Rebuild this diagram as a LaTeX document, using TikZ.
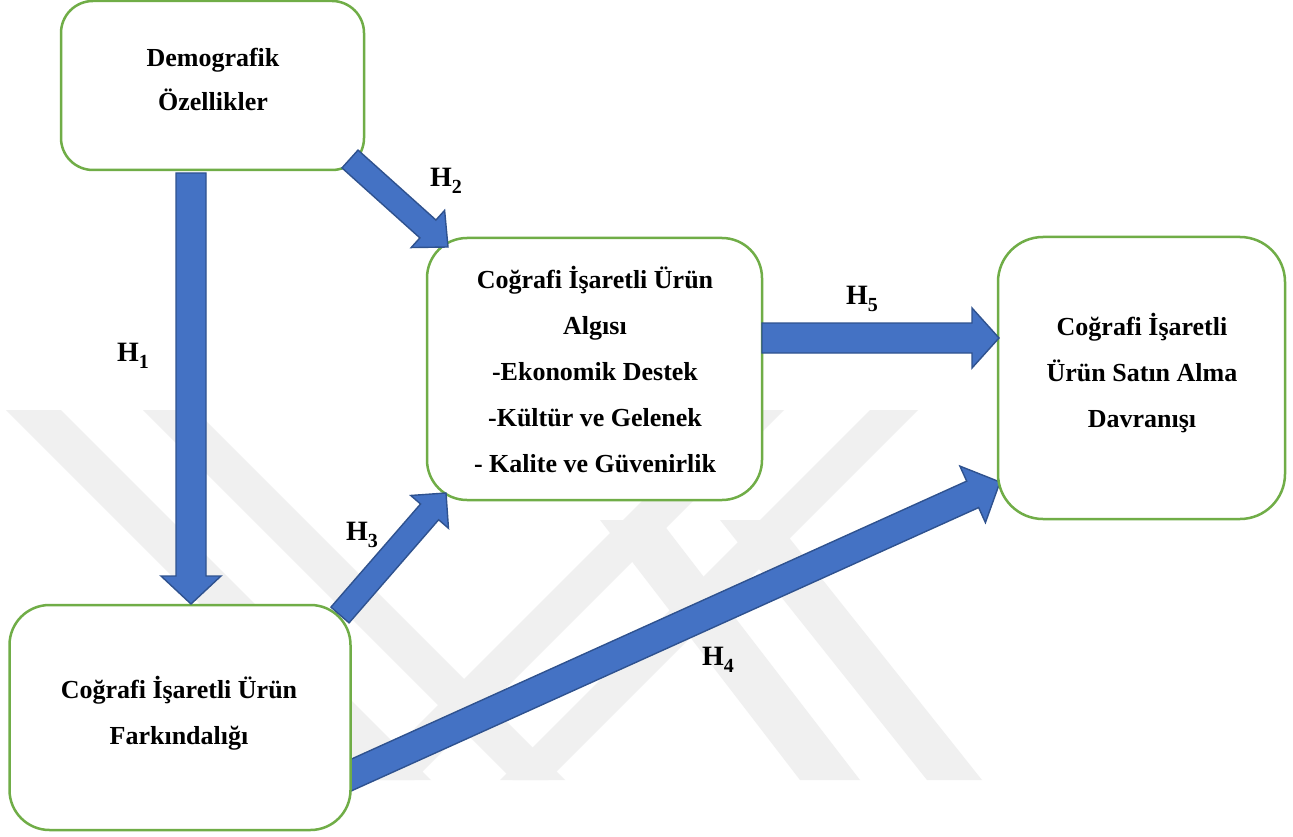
\documentclass[tikz,border=0pt]{standalone}
\usepackage{fontspec}
\setmainfont{Liberation Serif}
\usetikzlibrary{calc}
\definecolor{boxgreen}{HTML}{70AD47}
\definecolor{arrblue}{HTML}{4472C4}
\definecolor{arredge}{HTML}{2F528F}
\definecolor{wm}{HTML}{F0F0F0}
\newcommand{\hsub}[1]{\raisebox{-7pt}{\fontsize{20}{20}\selectfont #1}}
\newcommand{\myblockarrow}[5]{%
  \coordinate (ba-h) at ($(#2)!#5!(#1)$);
  \filldraw[blockarr] ($(#1)!#3!90:(#2)$) -- ($(ba-h)!#3!90:(#2)$) -- ($(ba-h)!#4!90:(#2)$) -- (#2)
    -- ($(ba-h)!#4!-90:(#2)$) -- ($(ba-h)!#3!-90:(#2)$) -- ($(#1)!#3!-90:(#2)$) -- cycle;
}
\tikzset{
  box/.style={draw=boxgreen, line width=2.5pt, rounded corners=#1, fill=white, inner sep=0pt},
  boxtext/.style={align=center, inner sep=0pt, font=\fontsize{26}{46}\selectfont\bfseries},
  blockarr/.style={fill=arrblue, draw=arredge, line width=1.4pt, line join=miter},
  hlabel/.style={anchor=base west, inner sep=0pt, font=\fontsize{28}{28}\selectfont\bfseries},
  wmark/.style={fill=wm, draw=none}
}
\begin{document}
\begin{tikzpicture}[x=1pt,y=-1pt]
\useasboundingbox (0,0) rectangle (1293,837);
\fill[white] (0,0) rectangle (1293,837);
% watermark
\fill[wmark] (6,410) -- (61,410) -- (431,780) -- (376,780) -- cycle;
\fill[wmark] (143,410) -- (195,410) -- (565,780) -- (513,780) -- cycle;
\fill[wmark] (733,410) -- (784,410) -- (414,780) -- (363,780) -- cycle;
\fill[wmark] (870,410) -- (918,410) -- (548,780) -- (500,780) -- cycle;
\fill[wmark] (600,520) -- (660,520) -- (860,780) -- (800,780) -- cycle;
\fill[wmark] (720,520) -- (775,520) -- (982,780) -- (927,780) -- cycle;

% connector end points
\coordinate (h1s) at (191,173); \coordinate (h1e) at (191,604);
\coordinate (h2s) at (350,159); \coordinate (h2e) at (448,247);
\coordinate (h3s) at (340,615); \coordinate (h3e) at (446,493);
\coordinate (h4s) at (338,781); \coordinate (h4e) at (1000,482);
\coordinate (h5s) at (762,338); \coordinate (h5e) at (999,338);

% H4 lies under its source box
\myblockarrow{h4s}{h4e}{14.5pt}{31pt}{30pt}

% boxes
\node[box=32pt, minimum width=303pt, minimum height=169pt] (demo) at (212.5,85.5) {};
\node[box=40pt, minimum width=335pt, minimum height=262pt] (algi) at (594.5,369) {};
\node[box=40pt, minimum width=341pt, minimum height=225pt] (fark) at (180,717.5) {};
\node[box=45pt, minimum width=287pt, minimum height=282pt] (satin) at (1141.5,378) {};

\node[boxtext, font=\fontsize{26}{44}\selectfont\bfseries] (demo-t) at (213,79) {Demografik\\Özellikler};
\node[boxtext] (algi-t) at (595,370) {Coğrafi İşaretli Ürün\\Algısı\\-Ekonomik Destek\\-Kültür ve Gelenek\\- Kalite ve Güvenirlik};
\node[boxtext] (fark-t) at (179,713) {Coğrafi İşaretli Ürün\\Farkındalığı};
\node[boxtext] (satin-t) at (1142,373) {Coğrafi İşaretli\\Ürün Satın Alma\\Davranışı};

% arrows
\myblockarrow{h1s}{h1e}{15pt}{30pt}{28pt}
\myblockarrow{h2s}{h2e}{12pt}{25pt}{27pt}
\myblockarrow{h3s}{h3e}{12pt}{25pt}{25pt}
\myblockarrow{h5s}{h5e}{15pt}{30pt}{27pt}

% labels
\node[hlabel] (l1) at (117,361) {H\hsub{1}};
\node[hlabel] (l2) at (430,187) {H\hsub{2}};
\node[hlabel] (l3) at (346,540) {H\hsub{3}};
\node[hlabel] (l4) at (702,665) {H\hsub{4}};
\node[hlabel] (l5) at (846,304) {H\hsub{5}};
\end{tikzpicture}
\end{document}
